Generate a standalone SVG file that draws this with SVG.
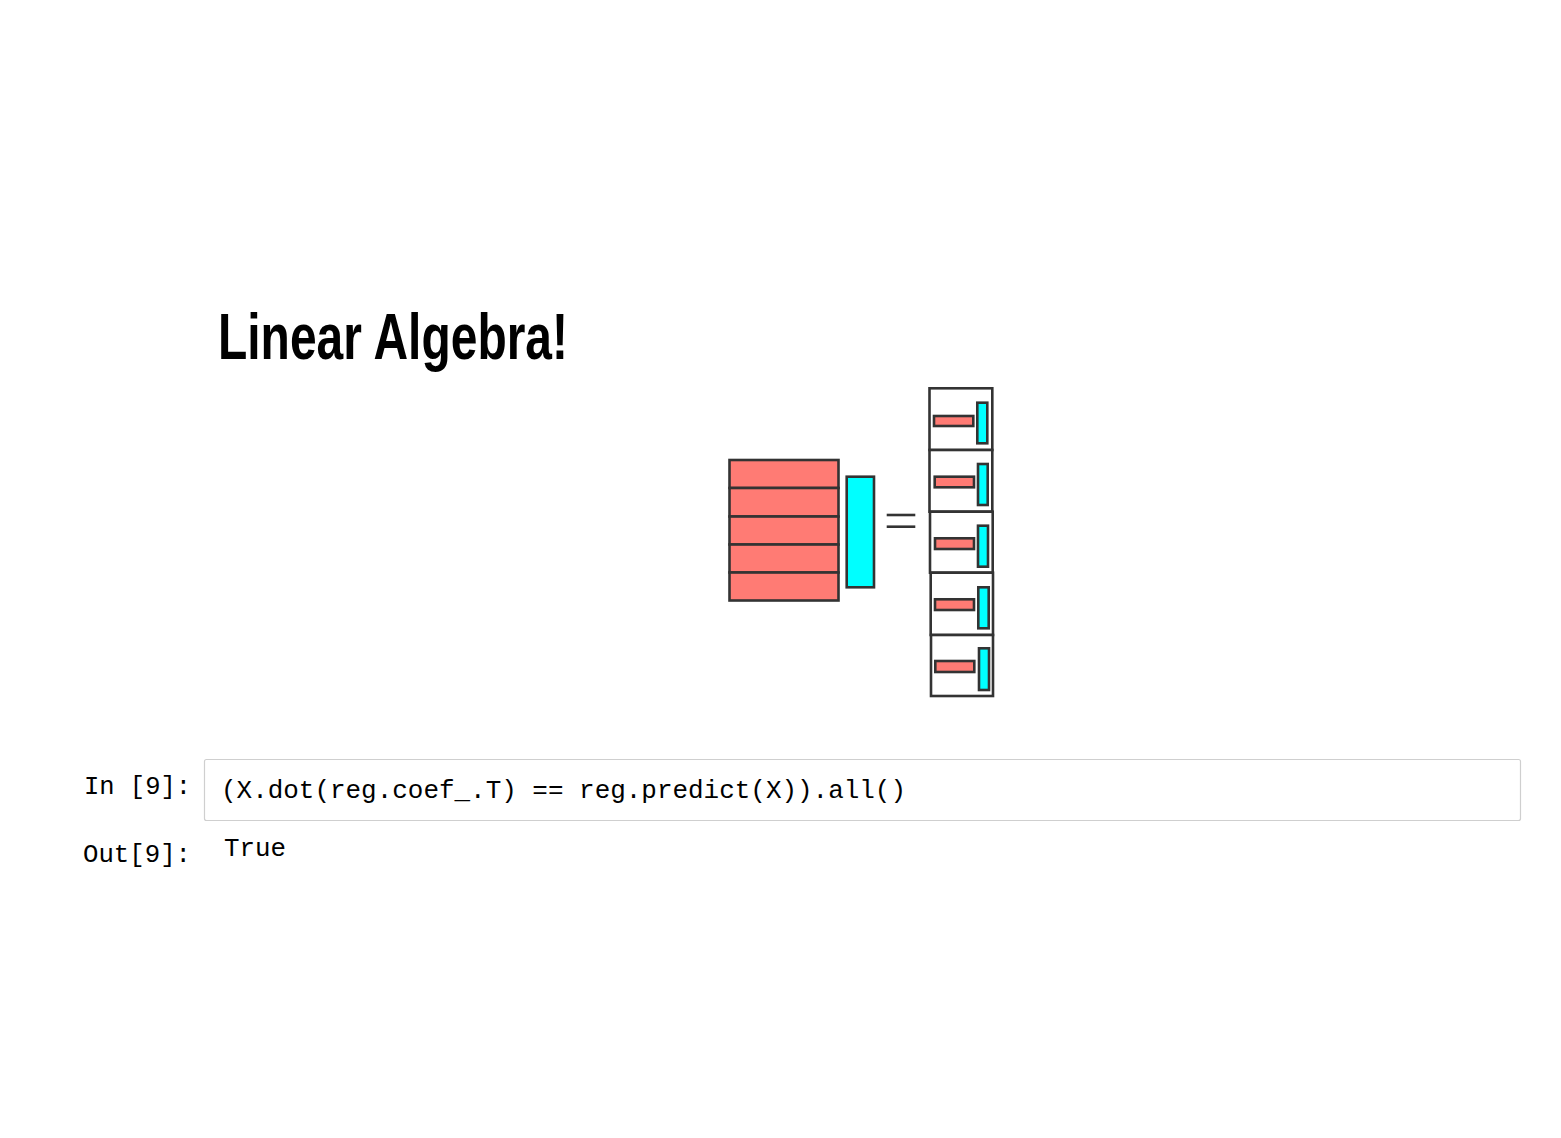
<svg xmlns="http://www.w3.org/2000/svg" width="1561" height="1138" viewBox="0 0 1561 1138">
<style>
.r{fill:#FF7B74;stroke:#333;stroke-width:2.6}
.c{fill:#00FFFF;stroke:#333;stroke-width:2.6}
.b{fill:#fff;stroke:#333;stroke-width:2.6}
.eq{stroke:#333;stroke-width:2.6}
.mono{font-family:"Liberation Mono","DejaVu Sans Mono",monospace;font-size:25.5px;fill:#000}
.title{font-family:"Liberation Sans Narrow","Liberation Sans",Arial,sans-serif;font-weight:bold;font-size:64px;fill:#000}
</style>
<rect width="1561" height="1138" fill="#fff"/>
<g id="title"><text class="title" x="218" y="359" textLength="350" lengthAdjust="spacingAndGlyphs">Linear Algebra!</text></g>
<g id="matrix">
<rect class="r" x="729.5" y="460" width="109" height="28"/>
<rect class="r" x="729.5" y="488" width="109" height="28.5"/>
<rect class="r" x="729.5" y="516.5" width="109" height="28"/>
<rect class="r" x="729.5" y="544.5" width="109" height="28"/>
<rect class="r" x="729.5" y="572.5" width="109" height="28"/>
</g>
<g id="vector"><rect class="c" x="846.7" y="476.7" width="27.3" height="110.6"/></g>
<g id="equals">
<line class="eq" x1="886.7" y1="515" x2="915.3" y2="515"/>
<line class="eq" x1="886.7" y1="526.7" x2="915.3" y2="526.7"/>
</g>
<g id="result">
<g id="row1">
<rect class="b" x="929.5" y="388.3" width="62.8" height="61.7"/>
<rect class="r" x="934" y="416" width="39.3" height="10"/>
<rect class="c" x="977.3" y="402.7" width="10" height="40.6"/>
</g>
<g id="row2">
<rect class="b" x="929.5" y="450" width="62.8" height="61.7"/>
<rect class="r" x="934.7" y="476.7" width="39.3" height="10.6"/>
<rect class="c" x="978" y="464" width="9.7" height="41"/>
</g>
<g id="row3">
<rect class="b" x="930" y="511.7" width="62.7" height="61"/>
<rect class="r" x="935" y="538.3" width="39" height="10.7"/>
<rect class="c" x="978" y="525.7" width="10" height="41"/>
</g>
<g id="row4">
<rect class="b" x="930.7" y="572.7" width="62.3" height="62.3"/>
<rect class="r" x="935" y="599.3" width="39" height="10.7"/>
<rect class="c" x="978.3" y="587.3" width="10.4" height="41"/>
</g>
<g id="row5">
<rect class="b" x="931" y="635" width="62" height="61"/>
<rect class="r" x="935.3" y="661" width="39" height="11"/>
<rect class="c" x="979" y="648.3" width="10" height="41.7"/>
</g>
</g>
<g id="cell">
<rect x="204.5" y="759.5" width="1316" height="61" rx="2" fill="#fff" stroke="#cfcfcf" stroke-width="1.2"/>
<text class="mono" x="84" y="794" textLength="107" lengthAdjust="spacingAndGlyphs">In [9]:</text>
<text class="mono" x="221" y="798" textLength="685" lengthAdjust="spacingAndGlyphs">(X.dot(reg.coef_.T) == reg.predict(X)).all()</text>
<text class="mono" x="83" y="862" textLength="108" lengthAdjust="spacingAndGlyphs">Out[9]:</text>
<text class="mono" x="224" y="856" textLength="62" lengthAdjust="spacingAndGlyphs">True</text>
</g>
</svg>
